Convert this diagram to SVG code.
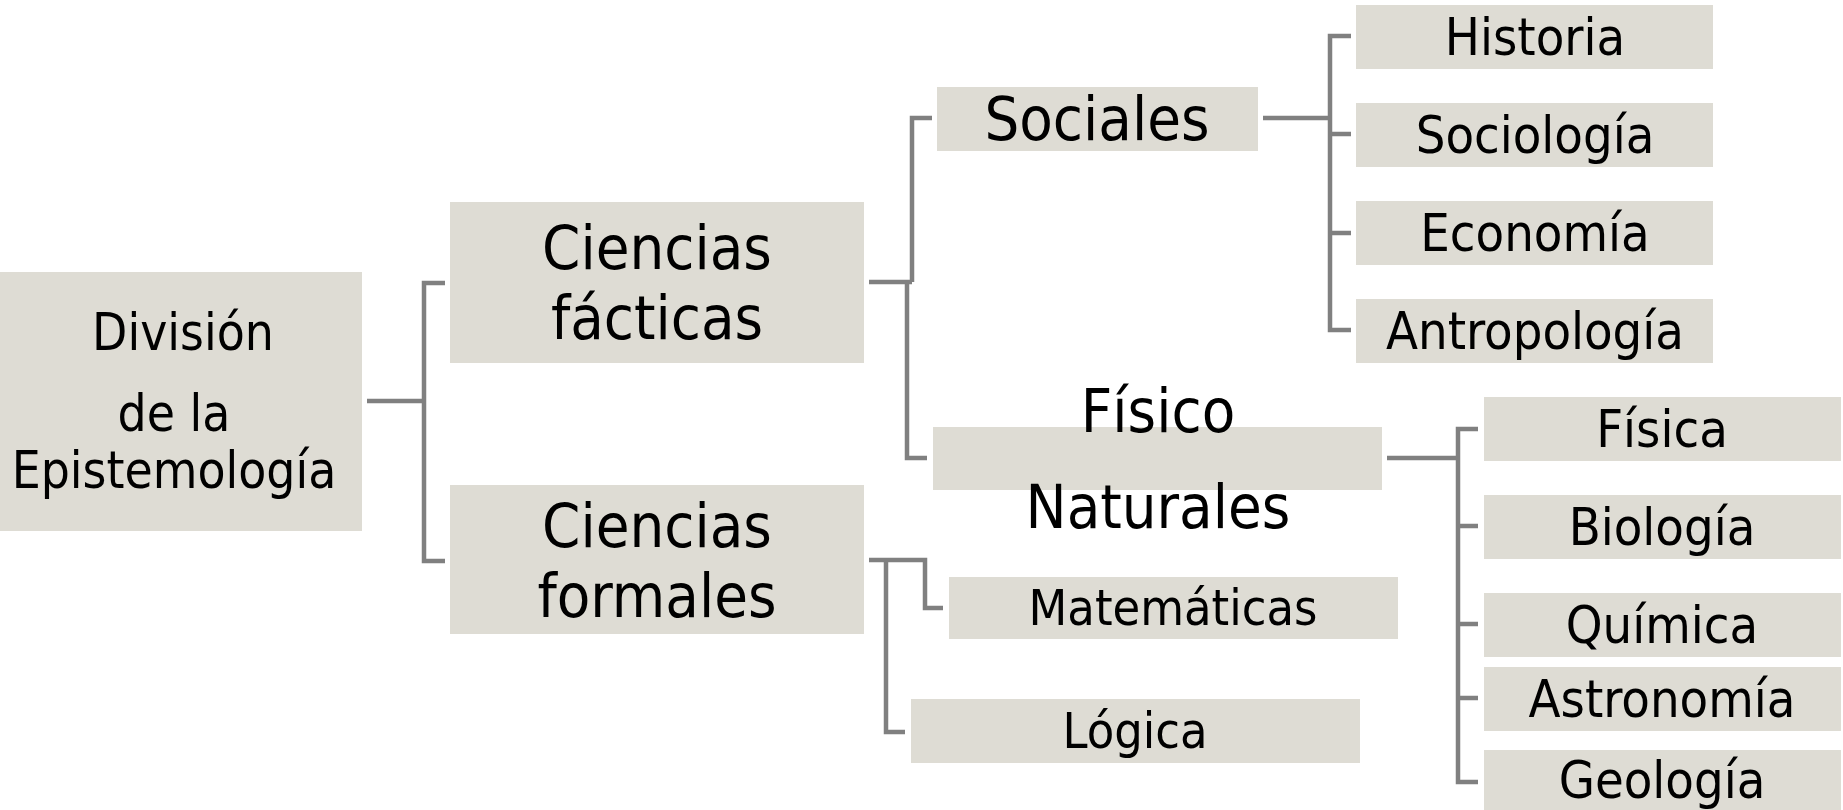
<svg xmlns="http://www.w3.org/2000/svg" width="1843" height="810" viewBox="0 0 1843 810">
<style>
.box{fill:#DEDCD4}
.t{font-family:"DejaVu Sans Condensed","DejaVu Sans",sans-serif;font-stretch:condensed;fill:#000;text-anchor:middle}
.c{fill:none;stroke:#808080;stroke-width:4.5;stroke-linejoin:miter}
</style>
<rect width="1843" height="810" fill="#fff"/>
<g id="connectors">
<path class="c" d="M367,401 H424 M445,283 H424 V561 H445"/>
<path class="c" d="M869,282 H912 M932,118 H912 V282 M912,282 H907 V458 H927"/>
<path class="c" d="M1263,118 H1330 M1351,36 H1330 V330 H1351 M1330,134 H1351 M1330,233 H1351"/>
<path class="c" d="M1387,458 H1458 M1478,429 H1458 V782 H1478 M1458,526 H1478 M1458,624 H1478 M1458,698 H1478"/>
<path class="c" d="M869,560 H925 V608 H943 M886,560 V732 H905"/>
</g>
<g id="root"><rect class="box" x="0" y="272" width="362" height="259"/>
<text class="t" font-size="51"><tspan x="183" y="350">División</tspan><tspan x="174" y="431">de la</tspan><tspan x="174" y="488">Epistemología</tspan></text></g>
<g id="facticas"><rect class="box" x="450" y="202" width="414" height="161"/>
<text class="t" font-size="61"><tspan x="657" y="269">Ciencias</tspan><tspan x="657" y="339">fácticas</tspan></text></g>
<g id="formales"><rect class="box" x="450" y="485" width="414" height="149"/>
<text class="t" font-size="61"><tspan x="657" y="547">Ciencias</tspan><tspan x="657" y="617">formales</tspan></text></g>
<g id="sociales"><rect class="box" x="937" y="87" width="321" height="64"/>
<text class="t" font-size="61" x="1097" y="140">Sociales</text></g>
<g id="fisico"><rect class="box" x="933" y="427" width="449" height="63"/>
<text class="t" font-size="61"><tspan x="1158" y="432">Físico</tspan><tspan x="1158" y="528">Naturales</tspan></text></g>
<g id="matematicas"><rect class="box" x="949" y="577" width="449" height="62"/>
<text class="t" font-size="50" x="1173" y="625">Matemáticas</text></g>
<g id="logica"><rect class="box" x="911" y="699" width="449" height="64"/>
<text class="t" font-size="50" x="1135" y="748">Lógica</text></g>
<g id="historia"><rect class="box" x="1356" y="5" width="357" height="64"/><text class="t" font-size="52" x="1535" y="55">Historia</text></g>
<g id="sociologia"><rect class="box" x="1356" y="103" width="357" height="64"/><text class="t" font-size="52" x="1535" y="153">Sociología</text></g>
<g id="economia"><rect class="box" x="1356" y="201" width="357" height="64"/><text class="t" font-size="52" x="1535" y="251">Economía</text></g>
<g id="antropologia"><rect class="box" x="1356" y="299" width="357" height="64"/><text class="t" font-size="52" x="1535" y="349">Antropología</text></g>
<g id="fisica"><rect class="box" x="1484" y="397" width="357" height="64"/><text class="t" font-size="52" x="1662" y="447">Física</text></g>
<g id="biologia"><rect class="box" x="1484" y="495" width="357" height="64"/><text class="t" font-size="52" x="1662" y="545">Biología</text></g>
<g id="quimica"><rect class="box" x="1484" y="593" width="357" height="64"/><text class="t" font-size="52" x="1662" y="643">Química</text></g>
<g id="astronomia"><rect class="box" x="1484" y="667" width="357" height="64"/><text class="t" font-size="52" x="1662" y="717">Astronomía</text></g>
<g id="geologia"><rect class="box" x="1484" y="750" width="357" height="64"/><text class="t" font-size="52" x="1662" y="798">Geología</text></g>
</svg>
